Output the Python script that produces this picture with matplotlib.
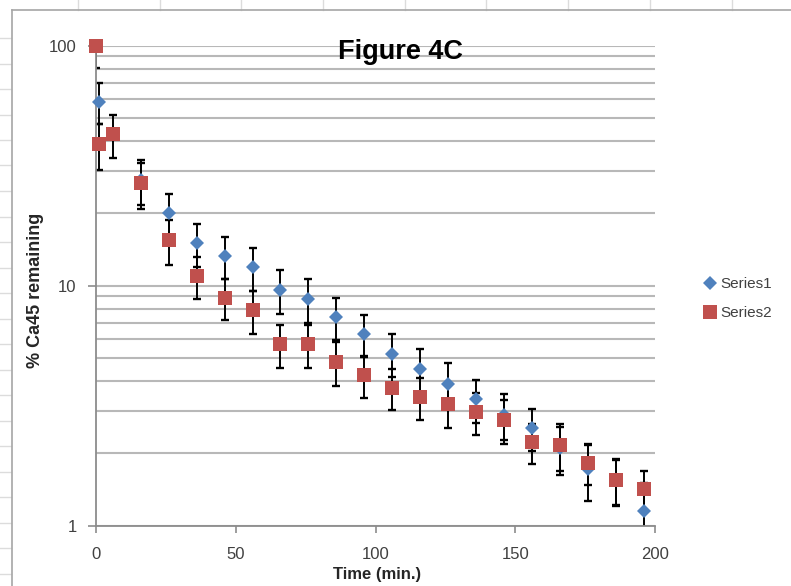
import numpy as np
import matplotlib
matplotlib.use("Agg")
import matplotlib.pyplot as plt
from matplotlib.lines import Line2D
from matplotlib.ticker import LogLocator, NullFormatter, FixedLocator, FixedFormatter

plt.rcParams['font.family'] = ['Liberation Sans', 'DejaVu Sans']

# Series1 (blue diamonds)
time1 = [1, 16, 26, 36, 46, 56, 66, 76, 86, 96, 106, 116, 126, 136, 146, 156, 166, 176, 186, 196]
ca1 = [58.3, 27.5, 20.0, 15.0, 13.3, 11.9, 9.6, 8.8, 7.4, 6.3, 5.2, 4.5, 3.9, 3.35, 2.9, 2.55, 2.1, 1.72, 1.55, 1.15]
err1 = [11.3, 5.9, 4.0, 3.1, 2.7, 2.4, 2.0, 1.8, 1.5, 1.25, 1.05, 0.95, 0.85, 0.68, 0.62, 0.5, 0.48, 0.45, 0.35, 0.35]

# Series2 (red squares)
time2 = [0, 1, 6, 16, 26, 36, 46, 56, 66, 76, 86, 96, 106, 116, 126, 136, 146, 156, 166, 176, 186, 196]
ca2 = [100, 38.8, 42.7, 26.7, 15.5, 11.0, 8.9, 7.9, 5.7, 5.7, 4.8, 4.25, 3.75, 3.42, 3.2, 2.97, 2.75, 2.23, 2.17, 1.83, 1.55, 1.42]
err2 = [19.6, 8.5, 8.6, 5.8, 3.3, 2.2, 1.7, 1.6, 1.15, 1.15, 1.0, 0.85, 0.72, 0.68, 0.64, 0.59, 0.57, 0.43, 0.48, 0.35, 0.33, 0.27]

x_ticks = [0, 50, 100, 150, 200]
y_ticks = [1, 10, 100]
y_tick_labels = ['1', '10', '100']

W, H = 791, 586
fig = plt.figure(figsize=(W / 100, H / 100), dpi=100)
fig.patch.set_facecolor('white')

# spreadsheet cells peeking around the chart
for k in range(10):
    xp = (78 + 81.7 * k) / W
    fig.add_artist(Line2D([xp, xp], [1, 1 - 10 / H], transform=fig.transFigure, color='#dcdcdc', lw=1))
for k in range(22):
    yp = 1 - (38 + 25.5 * k) / H
    fig.add_artist(Line2D([0, 11 / W], [yp, yp], transform=fig.transFigure, color='#dcdcdc', lw=1))
# chart area border
fig.add_artist(Line2D([12 / W, 12 / W], [0, 1 - 10 / H], transform=fig.transFigure, color='#a6a6a6', lw=1.2))
fig.add_artist(Line2D([12 / W, 1], [1 - 10 / H, 1 - 10 / H], transform=fig.transFigure, color='#a6a6a6', lw=1.2))

left, right = 96 / W, 655 / W
bottom, top = 1 - 525.5 / H, 1 - 45.5 / H
ax = fig.add_axes([left, bottom, right - left, top - bottom])

blue = '#4F81BD'
red = '#C0504D'

ax.errorbar(time1, ca1, yerr=err1, fmt='none', ecolor='black', elinewidth=1.4,
            capsize=3.2, capthick=1.7, zorder=2)
ax.errorbar(time2, ca2, yerr=err2, fmt='none', ecolor='black', elinewidth=1.4,
            capsize=3.2, capthick=1.7, zorder=2)
s1, = ax.plot(time1, ca1, linestyle='none', marker='D', ms=7.4, color=blue,
              mew=0, zorder=4, clip_on=False, label='Series1')
s2, = ax.plot(time2, ca2, linestyle='none', marker='s', ms=10, color=red,
              mew=0, zorder=5, clip_on=False, label='Series2')

ax.set_yscale('log')
ax.set_ylim(1, 100)
ax.set_xlim(0, 200)

ax.yaxis.set_major_locator(FixedLocator(y_ticks))
ax.yaxis.set_major_formatter(FixedFormatter(y_tick_labels))
ax.yaxis.set_minor_locator(LogLocator(base=10, subs=np.arange(2, 10)))
ax.yaxis.set_minor_formatter(NullFormatter())
ax.set_xticks(x_ticks)

ax.grid(True, axis='y', which='both', color='#b8b8b8', lw=1.5, zorder=0)
ax.set_axisbelow(True)

for side in ['top', 'right']:
    ax.spines[side].set_visible(False)
for side in ['left', 'bottom']:
    ax.spines[side].set_color('#8c8c8c')
    ax.spines[side].set_linewidth(1.3)

ax.tick_params(axis='y', which='major', direction='out', length=6, width=1.2,
               color='#8c8c8c', labelsize=12, labelcolor='#404040', pad=8)
ax.tick_params(axis='y', which='minor', length=0)
ax.tick_params(axis='x', direction='out', length=5, width=1.2, color='#8c8c8c',
               labelsize=12, labelcolor='#404040', pad=10.5)

ax.set_xlabel('Time (min.)', fontsize=12, fontweight='bold', color='#262626')
ax.xaxis.set_label_coords((377 - 96) / 559, (525.5 - 574) / 480)
ax.xaxis.label.set_va('center')
ax.set_ylabel('% Ca45 remaining', fontsize=13, fontweight='bold', color='#262626')
ax.yaxis.set_label_coords((36 - 96) / 559, (525.5 - 290) / 480)
ax.yaxis.label.set_va('center')

fig.text(400 / W, 1 - 52 / H, 'Figure 4C', fontsize=19.5, fontweight='bold',
         ha='center', va='center', color='black')

fig.legend(handles=[s1, s2], loc='center left', bbox_to_anchor=(0.872, 0.49),
           frameon=False, fontsize=11, handlelength=0.8, handletextpad=0.3,
           labelspacing=1.0, labelcolor='#404040')

fig.savefig('out.png', dpi=100)
